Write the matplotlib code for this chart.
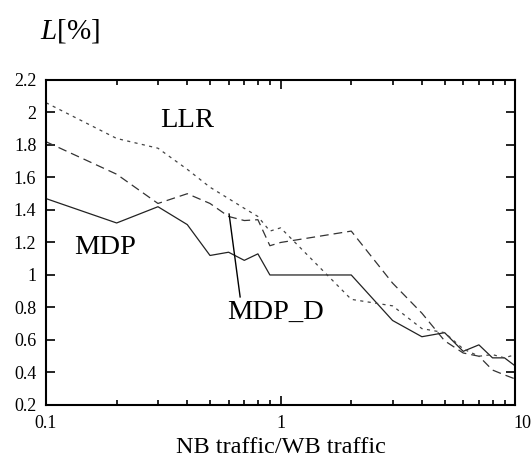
import matplotlib
matplotlib.use("Agg")
import matplotlib.pyplot as plt
import matplotlib.transforms as mtransforms
from matplotlib.ticker import FixedLocator, NullFormatter, FuncFormatter

# ratio of narrowband to wideband traffic
ratio = [0.1, 0.2, 0.3, 0.4, 0.5, 0.6, 0.7, 0.8, 0.9, 1, 2, 3, 4, 5, 6, 7, 8, 9, 10]

# blocking L in percent
mdp = [1.47, 1.32, 1.42, 1.31, 1.12, 1.14, 1.09, 1.13, 1.0, 1.0, 1.0,
       0.72, 0.62, 0.645, 0.53, 0.57, 0.49, 0.49, 0.44]
mdp_d = [1.82, 1.62, 1.44, 1.50, 1.44, 1.36, 1.335, 1.34, 1.18, 1.2, 1.27,
         0.95, 0.765, 0.595, 0.52, 0.50, 0.415, 0.385, 0.36]
llr = [2.06, 1.84, 1.78, 1.65, 1.54, 1.47, 1.41, 1.36, 1.27, 1.29, 0.85,
       0.81, 0.67, 0.645, 0.545, 0.50, 0.51, 0.49, 0.51]

serif = "Liberation Serif"
plt.rcParams["font.family"] = serif
plt.rcParams["mathtext.fontset"] = "custom"
plt.rcParams["mathtext.rm"] = serif
plt.rcParams["mathtext.it"] = serif + ":italic"

fig = plt.figure(figsize=(5.32, 4.69), dpi=100)
ax = fig.add_axes([0.0865, 0.1365, 0.882, 0.693])

ax.plot(ratio, mdp, color="#222222", lw=0.9, ls="-")
ax.plot(ratio, mdp_d, color="#333333", lw=0.9, ls=(0, (7, 4)))
ax.plot(ratio, llr, color="#444444", lw=0.9, ls=(0, (2.5, 3.5)))

ax.set_xscale("log")
ax.set_xlim(0.1, 10)
ax.set_ylim(0.2, 2.2)
ax.set_yticks([0.2, 0.4, 0.6, 0.8, 1.0, 1.2, 1.4, 1.6, 1.8, 2.0, 2.2])
ax.yaxis.set_major_formatter(FuncFormatter(lambda v, p: f"{v:g}"))
ax.xaxis.set_major_locator(FixedLocator([0.1, 1, 10]))
ax.xaxis.set_major_formatter(FuncFormatter(lambda v, p: f"{v:g}"))
ax.xaxis.set_minor_locator(FixedLocator([k * d for d in (0.1, 1) for k in range(2, 10)]))
ax.xaxis.set_minor_formatter(NullFormatter())

ax.tick_params(which="both", direction="in", top=True, right=True,
               labelsize=13, width=1.2, pad=7)
ax.tick_params(which="major", length=6.5)
ax.tick_params(which="minor", length=3.5)
for s in ax.spines.values():
    s.set_linewidth(1.5)

# the "10" label sits a little to the right and runs off the edge
fig.canvas.draw()
last = ax.get_xticklabels()[-1]
last.set_transform(last.get_transform() +
                   mtransforms.ScaledTranslation(7 / 100, 0, fig.dpi_scale_trans))

# labels on the curves
ax.text(0.178, 1.17, "MDP", fontsize=20.5, ha="center", va="center")
ax.text(0.40, 1.95, "LLR", fontsize=20.5, ha="center", va="center")
ax.text(0.955, 0.77, "MDP_D", fontsize=20.5, ha="center", va="center")
ax.plot([0.603, 0.672], [1.375, 0.865], color="black", lw=1.0)

ax.set_xlabel("NB traffic/WB traffic", fontsize=17.5, labelpad=4)
fig.text(0.075, 0.933, "$L$[%]", fontsize=21, ha="left", va="center")

fig.savefig("out.png", dpi=100)
